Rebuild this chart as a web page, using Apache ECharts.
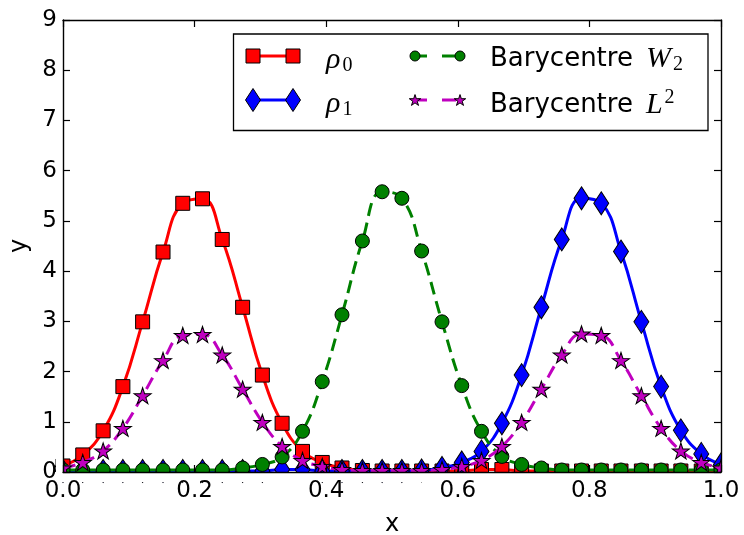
<!DOCTYPE html>
<html>
<head>
<meta charset="utf-8">
<script src="https://cdn.jsdelivr.net/npm/echarts@6/dist/echarts.min.js"></script>
<style>
html,body{margin:0;padding:0;background:#fff;}
#chart{width:744px;height:535px;}
</style>
</head>
<body>
<div id="chart"></div>
<script>
// ---- data ----
const xs = [0.000,0.030,0.061,0.091,0.121,0.152,0.182,0.212,0.242,0.273,0.303,0.333,0.364,0.394,0.424,0.455,0.485,0.515,0.545,0.576,0.606,0.636,0.667,0.697,0.727,0.758,0.788,0.818,0.848,0.879,0.909,0.939,0.970,1.000];
const rho0 = [0.12,0.34,0.82,1.70,2.99,4.38,5.35,5.44,4.63,3.28,1.93,0.97,0.41,0.19,0.08,0.03,0.02,0.02,0.02,0.02,0.02,0.05,0.05,0.02,0.02,0.02,0.02,0.02,0.02,0.02,0.02,0.02,0.02,0.02];
const rho1 = [0.02,0.02,0.02,0.02,0.02,0.02,0.02,0.02,0.02,0.02,0.02,0.05,0.05,0.02,0.02,0.02,0.02,0.02,0.03,0.08,0.19,0.41,0.97,1.93,3.28,4.63,5.45,5.35,4.39,2.99,1.70,0.83,0.36,0.15];
const baryW2 = [0.04,0.04,0.04,0.04,0.04,0.04,0.04,0.04,0.04,0.08,0.15,0.30,0.81,1.80,3.13,4.60,5.58,5.45,4.40,2.99,1.72,0.81,0.31,0.15,0.08,0.04,0.04,0.04,0.04,0.04,0.04,0.04,0.04,0.04];
const baryL2 = [0.08,0.19,0.42,0.87,1.52,2.22,2.72,2.74,2.33,1.65,0.99,0.51,0.23,0.11,0.05,0.03,0.03,0.03,0.03,0.05,0.11,0.23,0.51,0.99,1.65,2.33,2.75,2.72,2.22,1.52,0.87,0.42,0.19,0.08];
const xTicks = [0.0,0.2,0.4,0.6,0.8,1.0];
const yTicks = [0,1,2,3,4,5,6,7,8,9];

// ---- layout / style ----
const G = {left:63, top:20, width:658, height:452};
const SANS = 'DejaVu Sans';
const MATH = 'Liberation Serif';
const STAR = 'path://M0 -10 L2.245 -3.09 L9.511 -3.09 L3.633 1.18 L5.878 8.09 L0 3.82 L-5.878 8.09 L-3.633 1.18 L-9.511 -3.09 L-2.245 -3.09 Z';
const STAR_UNIT = [[0,-10],[2.245,-3.09],[9.511,-3.09],[3.633,1.18],[5.878,8.09],[0,3.82],[-5.878,8.09],[-3.633,1.18],[-9.511,-3.09],[-2.245,-3.09]];
function starPts(cx, cy, r){ return STAR_UNIT.map(p=>[cx + p[0]*r/10, cy + p[1]*r/10 + r*0.095]); }

function pts(ys){ return xs.map((x,i)=>[x, ys[i]]); }

const chart = echarts.init(document.getElementById('chart'));

const richText = {
  t:{fontFamily:SANS,fontSize:26,color:'#000',lineHeight:30},
  sp:{fontFamily:SANS,fontSize:26,color:'#000',lineHeight:30,width:13},
  m:{fontFamily:MATH,fontStyle:'italic',fontSize:30,color:'#000',lineHeight:30},
  sub:{fontFamily:MATH,fontSize:20,color:'#000',padding:[11,0,0,2]},
  sup:{fontFamily:MATH,fontSize:20,color:'#000',padding:[0,0,14,2]}
};
const labelFmt = {
  rho0:'{m|ρ}{sub|0}',
  rho1:'{m|ρ}{sub|1}',
  W2:'{t|Barycentre}{sp| }{m|W}{sub|2}',
  L2:'{t|Barycentre}{sp| }{m|L}{sup|2}'
};

function legendFor(name, left, top){
  return {
    data:[name], left:left, top:top, orient:'vertical', padding:0, z:25,
    itemWidth:1, itemHeight:1, icon:'rect', selectedMode:false,
    itemStyle:{opacity:0}, lineStyle:{opacity:0},
    formatter:(n)=>labelFmt[n],
    textStyle:{rich:richText}
  };
}

const axisCommon = {
  type:'value', min:0, splitLine:{show:false}, z:10,
  axisLine:{show:true, onZero:false, lineStyle:{color:'#000', width:1.4}},
  axisTick:{show:true, inside:true, length:7, lineStyle:{color:'#000', width:1.2}}
};

const option = {
  animation:false,
  backgroundColor:'#fff',
  grid:{left:G.left, top:G.top, width:G.width, height:G.height, containLabel:false, outerBoundsMode:'none'},
  xAxis:[
    Object.assign({}, axisCommon, {max:1, interval:0.2, position:'bottom',
      axisLabel:{show:true, color:'#000', fontFamily:SANS, fontSize:23, margin:8, formatter:(v)=>v.toFixed(1)},
      name:'x', nameLocation:'middle', nameGap:41,
      nameTextStyle:{color:'#000', fontFamily:SANS, fontSize:24}}),
    Object.assign({}, axisCommon, {max:1, interval:0.2, position:'top', axisLabel:{show:false}})
  ],
  yAxis:[
    Object.assign({}, axisCommon, {max:9, interval:1, position:'left',
      axisLabel:{show:true, color:'#000', fontFamily:SANS, fontSize:23, margin:6, formatter:(v)=>String(v)},
      name:'y', nameLocation:'middle', nameGap:23,
      nameTextStyle:{color:'#000', fontFamily:SANS, fontSize:24}}),
    Object.assign({}, axisCommon, {max:9, interval:1, position:'right', axisLabel:{show:false}})
  ],
  legend:[
    legendFor('rho0', 319, 45),
    legendFor('rho1', 319, 89),
    legendFor('W2', 483, 44),
    legendFor('L2', 483, 88)
  ],
  series:[
    {name:'rho0', type:'line', data:pts(rho0), smooth:0.45, clip:true, z:2,
     symbol:'rect', symbolSize:14, showAllSymbol:true,
     lineStyle:{color:'#ff0000', width:3},
     itemStyle:{color:'#ff0000', borderColor:'#000', borderWidth:1}},
    {name:'rho1', type:'line', data:pts(rho1), smooth:0.45, clip:true, z:3,
     symbol:'diamond', symbolSize:[15,23], showAllSymbol:true,
     lineStyle:{color:'#0000ff', width:3},
     itemStyle:{color:'#0000ff', borderColor:'#000', borderWidth:1}},
    {name:'W2', type:'line', data:pts(baryW2), smooth:0.45, clip:true, z:4,
     symbol:'circle', symbolSize:14, showAllSymbol:true,
     lineStyle:{color:'#008000', width:3, type:[13,7]},
     itemStyle:{color:'#008000', borderColor:'#000', borderWidth:1}},
    {name:'L2', type:'line', data:pts(baryL2), smooth:0.45, clip:true, z:5,
     symbol:STAR, symbolSize:[17,16], showAllSymbol:true,
     lineStyle:{color:'#bf00bf', width:3, type:[13,7]},
     itemStyle:{color:'#bf00bf', borderColor:'#000', borderWidth:1}}
  ],
  graphic:[
    {type:'rect', z:8, silent:true, shape:{x:G.left-8, y:G.top+G.height, width:G.width+16, height:10}, style:{fill:'#fff'}},
    {type:'rect', z:8, silent:true, shape:{x:G.left-7, y:G.top+G.height-40, width:7, height:40}, style:{fill:'#fff'}},
    {type:'rect', z:8, silent:true, shape:{x:G.left+G.width, y:G.top+G.height-40, width:10, height:40}, style:{fill:'#fff'}},
    {type:'rect', z:20, silent:true, shape:{x:233.5, y:34, width:474.5, height:96.5}, style:{fill:'#fff', stroke:'#000', lineWidth:1.3}},
    {type:'line', z:21, silent:true, shape:{x1:253, y1:56, x2:293, y2:56}, style:{stroke:'#ff0000', lineWidth:3}},
    {type:'rect', z:22, silent:true, shape:{x:246, y:49, width:14, height:14}, style:{fill:'#ff0000', stroke:'#000', lineWidth:1}},
    {type:'rect', z:22, silent:true, shape:{x:286, y:49, width:14, height:14}, style:{fill:'#ff0000', stroke:'#000', lineWidth:1}},
    {type:'line', z:21, silent:true, shape:{x1:253, y1:100, x2:293, y2:100}, style:{stroke:'#0000ff', lineWidth:3}},
    {type:'polygon', z:22, silent:true, shape:{points:[[253,88.5],[260.5,100],[253,111.5],[245.5,100]]}, style:{fill:'#0000ff', stroke:'#000', lineWidth:1}},
    {type:'polygon', z:22, silent:true, shape:{points:[[293,88.5],[300.5,100],[293,111.5],[285.5,100]]}, style:{fill:'#0000ff', stroke:'#000', lineWidth:1}},
    {type:'line', z:21, silent:true, shape:{x1:418, y1:56, x2:427, y2:56}, style:{stroke:'#008000', lineWidth:3}},
    {type:'line', z:21, silent:true, shape:{x1:442, y1:56, x2:456, y2:56}, style:{stroke:'#008000', lineWidth:3}},
    {type:'circle', z:22, silent:true, shape:{cx:415, cy:56, r:5}, style:{fill:'#008000', stroke:'#000', lineWidth:1}},
    {type:'circle', z:22, silent:true, shape:{cx:460, cy:56, r:5}, style:{fill:'#008000', stroke:'#000', lineWidth:1}},
    {type:'line', z:21, silent:true, shape:{x1:418, y1:100, x2:427, y2:100}, style:{stroke:'#bf00bf', lineWidth:3}},
    {type:'line', z:21, silent:true, shape:{x1:442, y1:100, x2:456, y2:100}, style:{stroke:'#bf00bf', lineWidth:3}},
    {type:'polygon', z:22, silent:true, shape:{points:starPts(415, 100, 6)}, style:{fill:'#bf00bf', stroke:'#000', lineWidth:1}},
    {type:'polygon', z:22, silent:true, shape:{points:starPts(460, 100, 6)}, style:{fill:'#bf00bf', stroke:'#000', lineWidth:1}}
  ]
};
chart.setOption(option);
</script>
</body>
</html>
